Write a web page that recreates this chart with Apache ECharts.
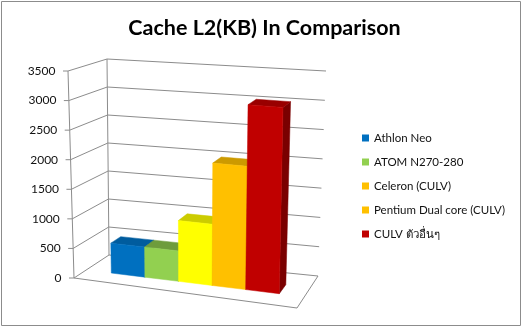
<!DOCTYPE html>
<html><head><meta charset="utf-8">
<script src="https://cdn.jsdelivr.net/npm/echarts@6/dist/echarts.min.js"></script>
<style>html,body{margin:0;padding:0;background:#fff}#c{width:527px;height:328px}</style>
</head><body><div id="c"></div>
<script>
// ---- data ----
const titleText = 'Cache L2(KB) In Comparison';
const seriesNames = ['Athlon Neo', 'ATOM N270-280', 'Celeron (CULV)', 'Pentium Dual core (CULV)', 'CULV ตัวอื่นๆ'];
const values = [512, 512, 1024, 2048, 3072];
const yTicks = [0, 500, 1000, 1500, 2000, 2500, 3000, 3500];

// ---- styles ----
const frontColors = ['#0070C0', '#92D050', '#FFFF00', '#FFC000', '#C00000'];
const topColors = ['#005C9E', '#6E9C3C', '#CCCC00', '#CC9A00', '#990000'];
const sideColors = ['#004C80', '#5A8030', '#A8A800', '#A87E00', '#7A0000'];
const legendColors = ['#0070C0', '#92D050', '#FFC000', '#FFC000', '#C00000'];
const FONT = 'Lato, "Noto Sans", "DejaVu Sans", sans-serif';
const gridCol = '#8C8C8C';

// 3D box corners in screen space (front/back, left/right, bottom/top)
const BOX = {
  FLB: [74, 278], FLT: [68, 71], FRB: [297, 308], FRT: [301, 90],
  BLB: [109, 255], BLT: [107, 59], BRB: [318, 276], BRT: [326, 71]
};
const U0 = 0.115, USPAN = 0.77, W0 = 0.35, W1 = 0.64;

function lerp(a, b, t) { return [a[0] + (b[0] - a[0]) * t, a[1] + (b[1] - a[1]) * t]; }
function P(u, v, w) {
  const fb = lerp(BOX.FLB, BOX.FRB, u), ft = lerp(BOX.FLT, BOX.FRT, u);
  const bb = lerp(BOX.BLB, BOX.BRB, u), bt = lerp(BOX.BLT, BOX.BRT, u);
  const bot = lerp(fb, bb, w), top = lerp(ft, bt, w);
  return lerp(bot, top, v);
}

function renderFrame(params, api) {
  const sys = params.coordSys;
  const t = api.value(1);
  const c = api.coord([0, t]);
  const v = (sys.y + sys.height - c[1]) / sys.height;
  const children = [];
  const ln = { stroke: gridCol, lineWidth: 1, fill: null };
  children.push({ type: 'polyline', shape: { points: [P(0, v, 0), P(0, v, 1), P(1, v, 1)] }, style: ln });
  const a = P(0, v, 0);
  children.push({ type: 'line', shape: { x1: a[0] - 5, y1: a[1], x2: a[0], y2: a[1] }, style: ln });
  children.push({ type: 'text', style: { text: String(t), x: a[0] - 12.5, y: a[1], align: 'right', verticalAlign: 'middle', textAlign: 'right', textVerticalAlign: 'middle', fill: '#111', font: '12px ' + FONT } });
  if (params.dataIndex === 0) {
    children.push({ type: 'polyline', shape: { points: [P(0, 0, 0), P(1, 0, 0), P(1, 0, 1)] }, style: ln });
    children.push({ type: 'line', shape: { x1: P(0, 0, 0)[0], y1: P(0, 0, 0)[1], x2: P(0, 1, 0)[0], y2: P(0, 1, 0)[1] }, style: ln });
    children.push({ type: 'line', shape: { x1: P(0, 0, 1)[0], y1: P(0, 0, 1)[1], x2: P(0, 1, 1)[0], y2: P(0, 1, 1)[1] }, style: ln });
  }
  return { type: 'group', children: children };
}

function makeBarRenderer(si) {
  return function (params, api) {
    const sys = params.coordSys;
    const i = api.value(0), val = api.value(1);
    const c0 = api.coord([i, 0]), c1 = api.coord([i, val]);
    const bw = api.size([1, 0])[0];
    const cu = (c0[0] - sys.x) / sys.width, hw = bw / sys.width / 2;
    const u0 = U0 + USPAN * (cu - hw), u1 = U0 + USPAN * (cu + hw);
    const v = (c0[1] - c1[1]) / sys.height;
    const poly = (pts, col) => ({ type: 'polygon', shape: { points: pts }, style: { fill: col, stroke: col, lineWidth: 0.5 } });
    return {
      type: 'group', children: [
        poly([P(u1, 0, W0), P(u1, 0, W1), P(u1, v, W1), P(u1, v, W0)], sideColors[si]),
        poly([P(u0, v, W0), P(u1, v, W0), P(u1, v, W1), P(u0, v, W1)], topColors[si]),
        poly([P(u0, 0, W0), P(u1, 0, W0), P(u1, v, W0), P(u0, v, W0)], frontColors[si])
      ]
    };
  };
}

const series = [{
  type: 'custom', name: '_frame', silent: true, renderItem: renderFrame,
  data: yTicks.map(t => [0, t]), encode: { x: 0, y: 1 }, z: 1
}];
seriesNames.forEach((n, si) => {
  series.push({
    type: 'custom', name: n, renderItem: makeBarRenderer(si),
    itemStyle: { color: legendColors[si] },
    data: [[si, values[si]]], encode: { x: 0, y: 1 }, z: 2 + si
  });
});

const chart = echarts.init(document.getElementById('c'), null, { renderer: 'canvas' });
chart.setOption({
  animation: false,
  backgroundColor: '#fff',
  title: {
    text: titleText, left: 259.5, top: 12, textAlign: 'center',
    textStyle: { fontFamily: FONT, fontWeight: 'bold', fontSize: 21.5, color: '#000' }
  },
  legend: {
    orient: 'vertical', left: 357, top: 126, itemWidth: 7, itemHeight: 7, itemGap: 10,
    icon: 'rect', data: seriesNames,
    textStyle: { fontFamily: FONT, fontSize: 11.5, color: '#111', lineHeight: 14 }
  },
  grid: { left: 68, top: 71, width: 229, height: 207 },
  xAxis: { type: 'category', data: seriesNames, show: false },
  yAxis: { type: 'value', min: 0, max: 3500, interval: 500, show: false },
  graphic: [{ type: 'rect', shape: { x: 1.5, y: 1.5, width: 519, height: 324 }, style: { fill: null, stroke: '#8C8C8C', lineWidth: 1 }, silent: true }],
  series: series
});
</script></body></html>
